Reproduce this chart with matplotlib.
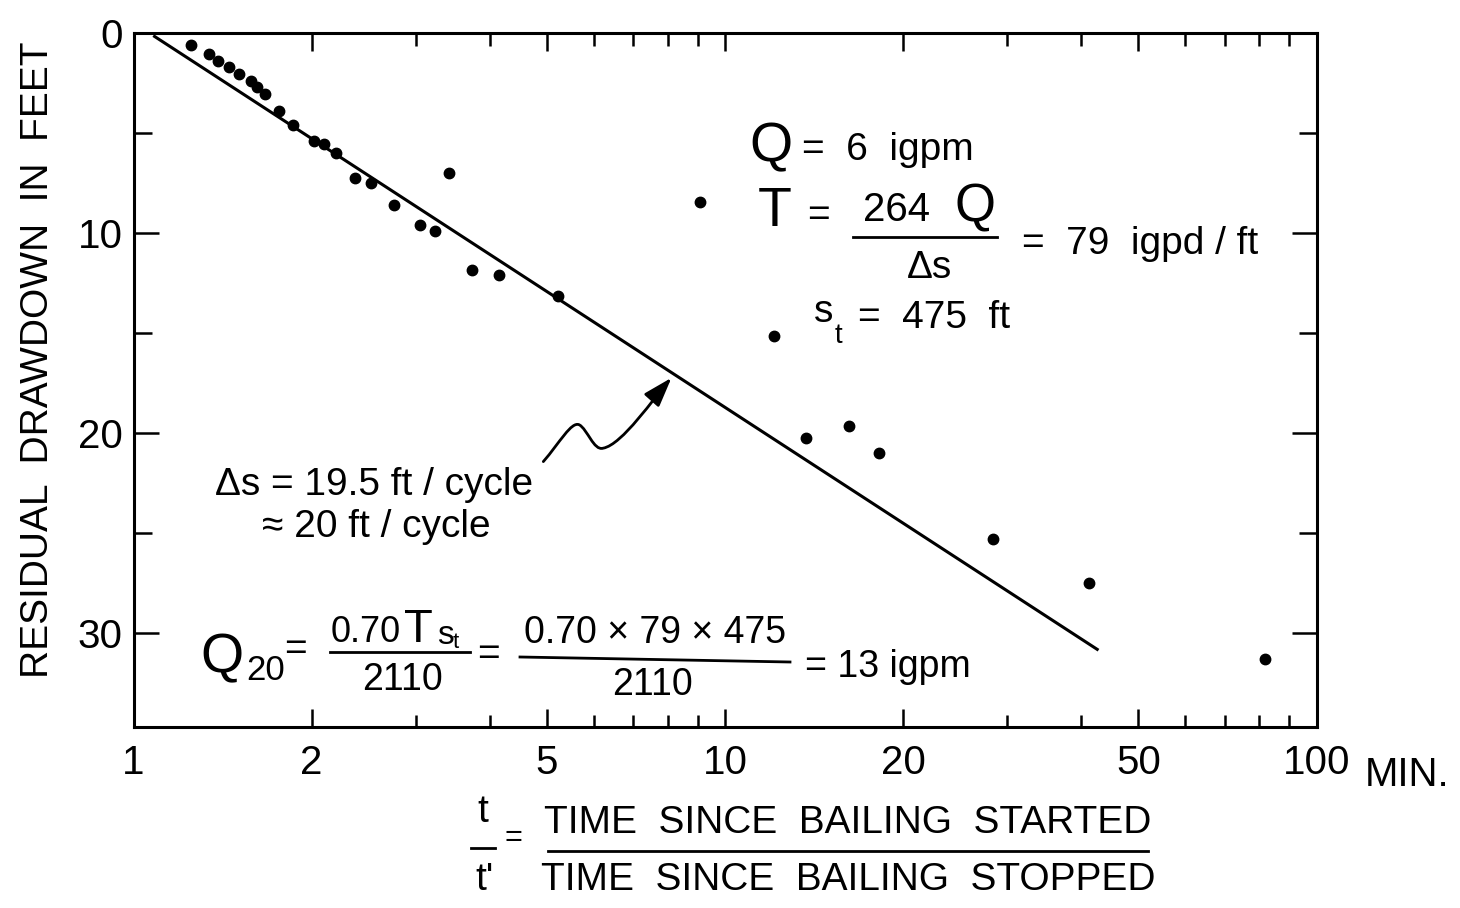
import numpy as np
import matplotlib
matplotlib.use('Agg')
import matplotlib.pyplot as plt
from matplotlib.lines import Line2D
from matplotlib.patches import FancyArrowPatch
from matplotlib.path import Path
from matplotlib.ticker import FixedLocator, NullFormatter, FixedFormatter

plt.rcParams['font.family'] = ['Liberation Sans Narrow', 'Liberation Sans', 'DejaVu Sans']

# t/t' ratio and residual drawdown (ft)
t_ratio = [1.25, 1.34, 1.39, 1.45, 1.51, 1.58, 1.62, 1.67, 1.76, 1.86,
           2.02, 2.10, 2.20, 2.37, 2.52, 3.42, 2.76, 3.05, 3.23, 3.74,
           4.15, 5.22, 9.08, 12.1, 13.7, 16.2, 18.2, 28.4, 41.3, 81.9]
drawdown = [0.62, 1.03, 1.39, 1.71, 2.04, 2.41, 2.68, 3.06, 3.91, 4.59,
            5.41, 5.56, 6.02, 7.25, 7.51, 7.02, 8.59, 9.59, 9.88, 11.84,
            12.09, 13.14, 8.45, 15.13, 20.23, 19.63, 21.0, 25.31, 27.51, 31.32]

# straight line fitted by eye
fit_x = [1.08, 42.8]
fit_y = [0.13, 30.86]

# squiggly arrow pointing at the line
arrow_x = [4.93, 5.67, 6.22, 8.12]
arrow_y = [21.43, 19.59, 20.76, 17.24]

x_ticks = [1, 2, 5, 10, 20, 50, 100]
x_minor = [3, 4, 6, 7, 8, 9, 30, 40, 60, 70, 80, 90]
y_ticks = [0, 10, 20, 30]
y_minor = [5, 15, 25]

W, H = 1460, 908
fig = plt.figure(figsize=(W / 100, H / 100), dpi=100)
ax = fig.add_axes([133.5 / W, 1 - 727 / H, 1183 / W, 694 / H])

ax.plot(fit_x, fit_y, color='black', lw=2.2, solid_capstyle='butt')
ax.plot(t_ratio, drawdown, 'o', color='black', ms=7.5)

ax.set_xscale('log')
ax.set_xlim(1, 100)
ax.set_ylim(34.7, 0)

ax.xaxis.set_major_locator(FixedLocator(x_ticks))
ax.xaxis.set_major_formatter(FixedFormatter([str(v) for v in x_ticks]))
ax.xaxis.set_minor_locator(FixedLocator(x_minor))
ax.xaxis.set_minor_formatter(NullFormatter())
ax.yaxis.set_major_locator(FixedLocator(y_ticks))
ax.yaxis.set_minor_locator(FixedLocator(y_minor))

ax.tick_params(which='both', direction='in', top=True, right=True, width=1.8, labelsize=29)
ax.tick_params(axis='y', which='major', length=18, pad=8)
ax.tick_params(axis='y', which='minor', length=13)
ax.tick_params(axis='x', which='major', length=13, pad=12)
ax.tick_params(axis='x', which='minor', length=9)
for sp in ax.spines.values():
    sp.set_linewidth(2.2)

# arrow
pts = list(zip(arrow_x, arrow_y))
verts = [pts[0], (5.25, 20.5), (5.5, 19.4), pts[1],
         (5.85, 19.8), (6.0, 20.9), pts[2],
         (6.7, 20.6), (7.6, 18.2), pts[3]]
codes = [Path.MOVETO] + [Path.CURVE4] * 9
arr = FancyArrowPatch(path=Path(verts, codes), arrowstyle='-|>,head_length=0.9,head_width=0.3',
                      mutation_scale=20, color='black', lw=2, transform=ax.transData)
ax.add_patch(arr)


def txt(x, y, s, size=28, ha='left', va='center', **kw):
    fig.text(x / W, 1 - y / H, s, fontsize=size, ha=ha, va=va, **kw)


def rule(x0, x1, y0, y1=None):
    if y1 is None:
        y1 = y0
    fig.add_artist(Line2D([x0 / W, x1 / W], [1 - y0 / H, 1 - y1 / H], color='black', lw=2))


# Q and T block
txt(771, 147, 'Q', size=40, ha='center')
txt(802, 150, '=  6  igpm')
txt(775, 212, 'T', size=40, ha='center')
txt(818, 216, '=', ha='center')
txt(897, 210, '264', size=29, ha='center')
txt(975, 208, 'Q', size=38, ha='center')
rule(853, 997, 237)
txt(930, 268, 'Δs', ha='center')
txt(1022, 244, '=  79  igpd / ft')
txt(824, 312, 's', ha='center')
txt(838, 336, 't', size=20, ha='center')
txt(858, 318, '=  475  ft')

# slope note
txt(215, 485, 'Δs = 19.5 ft / cycle')
txt(262, 527, '≈ 20 ft / cycle')

# Q20 formula
txt(222, 658, 'Q', size=40, ha='center')
txt(246, 670, '20', size=25)
txt(295, 650, '=', ha='center')
txt(331, 632, '0.70', size=26)
txt(418, 630, 'T', size=34, ha='center')
txt(437, 636, 's', size=24)
txt(453, 643, 't', size=16)
rule(330, 470, 652)
txt(403, 680, '2110', size=27, ha='center')
txt(488, 655, '=', ha='center')
txt(655, 633, '0.70 × 79 × 475', size=27, ha='center')
rule(520, 790, 657, 662)
txt(652, 685, '2110', size=27, ha='center')
txt(805, 667, '= 13 igpm', size=27)

# axis titles
txt(1365, 775, 'MIN.', size=29)
txt(483, 812, 't', ha='center')
rule(471, 495, 848)
txt(485, 880, "t'", ha='center')
txt(513, 838, '=', size=22, ha='center')
txt(848, 823, 'TIME  SINCE  BAILING  STARTED', ha='center')
rule(548, 1148, 851)
txt(848, 880, 'TIME  SINCE  BAILING  STOPPED', ha='center')
txt(38, 360, 'RESIDUAL  DRAWDOWN  IN  FEET', size=28, ha='center', rotation=90)

fig.savefig('out.png', dpi=100)
